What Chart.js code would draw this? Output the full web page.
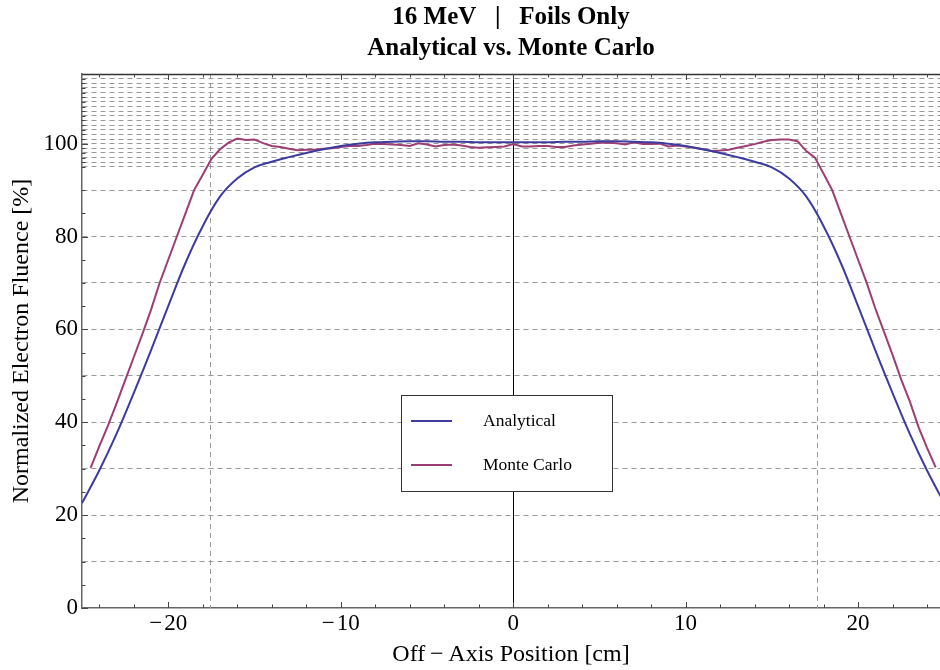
<!DOCTYPE html>
<html>
<head>
<meta charset="utf-8">
<script src="https://cdn.jsdelivr.net/npm/chart.js@4/dist/chart.umd.min.js"></script>
<style>
html, body { margin: 0; padding: 0; background: #fff; }
</style>
</head>
<body>
<canvas id="fluenceChart" width="940" height="670"></canvas>
<script>
var chartTitle = ['16 MeV   |   Foils Only', 'Analytical vs. Monte Carlo'];
var seriesNames = ['Analytical', 'Monte Carlo'];

// off-axis position [cm]
var analyticalX = [-25, -24, -23, -22, -21, -20, -19, -18, -17, -16, -15, -14, -13, -12, -11, -10, -9, -8, -7, -6, -5, -4, -3, -2, -1,
    0, 1, 2, 3, 4, 5, 6, 7, 8, 9, 10, 11, 12, 13, 14, 15, 16, 17, 18, 19, 20, 21, 22, 23, 24, 25];
var analyticalY = [22.6, 29.6, 37.5, 46.3, 55.5, 65.0, 74.3, 82.2, 88.6, 92.5, 94.9, 96.1, 97.1, 98.0, 98.8, 99.5, 100.0, 100.3, 100.4, 100.5, 100.5, 100.4, 100.4, 100.3, 100.3,
    100.3, 100.3, 100.3, 100.4, 100.4, 100.5, 100.5, 100.4, 100.3, 100.0, 99.5, 98.8, 98.0, 97.1, 96.1, 94.9, 92.5, 88.6, 82.2, 74.3, 65.0, 55.5, 46.3, 37.5, 29.6, 22.6];

var monteCarloX = [-24.5, -24, -23.5, -23, -22.5, -22, -21.5, -21, -20.5, -20, -19.5, -19, -18.5, -18, -17.5, -17, -16.5, -16, -15.5, -15,
    -14.5, -14, -13.5, -13, -12.5, -12, -11.5, -11, -10.5, -10, -9.5, -9, -8.5, -8, -7.5, -7, -6.5, -6, -5.5, -5,
    -4.5, -4, -3.5, -3, -2.5, -2, -1.5, -1, -0.5, 0, 0.5, 1, 1.5, 2, 2.5, 3, 3.5, 4, 4.5, 5,
    5.5, 6, 6.5, 7, 7.5, 8, 8.5, 9, 9.5, 10, 10.5, 11, 11.5, 12, 12.5, 13, 13.5, 14, 14.5, 15,
    15.5, 16, 16.5, 17, 17.5, 18, 18.5, 19, 19.5, 20, 20.5, 21, 21.5, 22, 22.5, 23, 23.5, 24, 24.5];
var monteCarloY = [30.2, 34.8, 39.2, 44.0, 49.0, 54.0, 59.0, 64.2, 70.0, 75.0, 80.0, 85.0, 90.0, 93.3, 96.7, 98.8, 100.2, 101.1, 100.8, 100.9,
    100.1, 99.5, 99.3, 98.9, 98.6, 98.7, 98.7, 98.9, 99.0, 99.3, 99.5, 99.5, 99.7, 100.0, 99.9, 99.8, 99.7, 99.5, 100.1, 99.8,
    99.4, 99.7, 99.8, 99.6, 99.3, 99.1, 99.2, 99.3, 99.4, 99.9, 99.4, 99.4, 99.5, 99.5, 99.3, 99.3, 99.6, 99.8, 100.0, 100.2,
    100.2, 100.1, 99.8, 100.3, 99.9, 99.9, 100.0, 99.4, 99.6, 99.4, 99.1, 98.8, 98.4, 98.5, 98.7, 99.1, 99.5, 99.9, 100.4, 100.8,
    100.9, 100.9, 100.5, 98.4, 97.0, 93.5, 90.0, 85.0, 80.0, 75.0, 70.0, 64.5, 59.5, 54.5, 49.2, 44.5, 39.0, 34.5, 30.3];

// axes: labels, tick marks, grid lines
var xLabelValues = [-20, -10, 0, 10, 20];
var xMinorTicks = [-24, -22, -18, -16, -14, -12, -8, -6, -4, -2, 2, 4, 6, 8, 12, 14, 16, 18, 22, 24];
var xDashedLines = [-17.6, 17.6];
var yLabelValues = [0, 20, 40, 60, 80, 100];
var yMinorTicks = [5, 10, 15, 25, 30, 35, 45, 50, 55, 65, 70, 75, 85, 90, 95, 96, 97, 98, 99, 101, 102, 103, 104,
    105, 106, 107, 108, 109, 110, 111, 112, 113, 114];
var yGridValues = [10, 20, 30, 40, 50, 60, 70, 80, 90, 95, 96, 97, 98, 99, 100, 101, 102, 103, 104, 105,
    106, 107, 108, 109, 110, 111, 112, 113, 114, 115];

var serif = "'Liberation Serif', 'Times New Roman', serif";
var gridGray = '#999';

function toPoints(xs, ys) {
    return xs.map(function (x, i) { return {x: x, y: ys[i]}; });
}

var framePlugin = {
    id: 'framePlugin',
    beforeDatasetsDraw: function (chart) {
        var ctx = chart.ctx, a = chart.chartArea, xs = chart.scales.x;
        ctx.save();
        ctx.lineWidth = 1;
        ctx.strokeStyle = gridGray;
        ctx.setLineDash([5, 4]);
        xDashedLines.forEach(function (v) {
            var px = Math.round(xs.getPixelForValue(v)) + 0.5;
            ctx.beginPath();
            ctx.moveTo(px, a.top);
            ctx.lineTo(px, a.bottom);
            ctx.stroke();
        });
        ctx.setLineDash([]);
        ctx.strokeStyle = '#000';
        var p0 = Math.round(xs.getPixelForValue(0)) + 0.5;
        ctx.beginPath();
        ctx.moveTo(p0, a.top);
        ctx.lineTo(p0, a.bottom);
        ctx.stroke();
        ctx.restore();
    },
    afterDraw: function (chart) {
        var ctx = chart.ctx, a = chart.chartArea, xs = chart.scales.x, ys = chart.scales.y;
        ctx.save();
        // top frame line
        ctx.strokeStyle = '#333';
        ctx.lineWidth = 1.3;
        ctx.beginPath();
        ctx.moveTo(a.left, a.top + 0.5);
        ctx.lineTo(a.right, a.top + 0.5);
        ctx.stroke();

        // inward tick marks
        ctx.lineWidth = 1;
        ctx.strokeStyle = '#444';
        function xTick(v, len) {
            var px = Math.round(xs.getPixelForValue(v)) + 0.5;
            ctx.beginPath();
            ctx.moveTo(px, a.bottom);
            ctx.lineTo(px, a.bottom - len);
            ctx.moveTo(px, a.top);
            ctx.lineTo(px, a.top + len);
            ctx.stroke();
        }
        function yTick(v, len) {
            var py = Math.round(ys.getPixelForValue(v)) + 0.5;
            ctx.beginPath();
            ctx.moveTo(a.left, py);
            ctx.lineTo(a.left + len, py);
            ctx.stroke();
        }
        xLabelValues.forEach(function (v) { xTick(v, 6); });
        xMinorTicks.forEach(function (v) { xTick(v, 3.5); });
        yLabelValues.forEach(function (v) { yTick(v, 6); });
        yMinorTicks.forEach(function (v) { yTick(v, 3.5); });

        // legend box
        var bx = a.left + 319, by = a.top + 321, bw = 211, bh = 96;
        ctx.fillStyle = '#fff';
        ctx.fillRect(bx, by, bw, bh);
        ctx.strokeStyle = '#333';
        ctx.lineWidth = 1;
        ctx.strokeRect(bx + 0.5, by + 0.5, bw, bh);
        ctx.font = '17.5px ' + serif;
        ctx.textBaseline = 'middle';
        ctx.textAlign = 'left';
        chart.data.datasets.forEach(function (ds, i) {
            var ly = by + 26 + i * 44;
            ctx.strokeStyle = ds.borderColor;
            ctx.lineWidth = 2;
            ctx.beginPath();
            ctx.moveTo(bx + 10, ly);
            ctx.lineTo(bx + 51, ly);
            ctx.stroke();
            ctx.fillStyle = '#000';
            ctx.fillText(ds.label, bx + 82, ly);
        });
        ctx.restore();
    }
};

var ctx = document.getElementById('fluenceChart');
var fluenceChart = new Chart(ctx, {
    type: 'line',
    data: {
        datasets: [{
            label: seriesNames[0],
            data: toPoints(analyticalX, analyticalY),
            borderColor: '#3c3ca0',
            borderWidth: 2,
            pointRadius: 0,
            tension: 0.4,
            fill: false
        }, {
            label: seriesNames[1],
            data: toPoints(monteCarloX, monteCarloY),
            borderColor: '#9c3d74',
            borderWidth: 2,
            pointRadius: 0,
            tension: 0,
            fill: false
        }]
    },
    options: {
        responsive: false,
        animation: false,
        layout: { padding: 0 },
        plugins: {
            legend: { display: false },
            tooltip: { enabled: false },
            title: {
                display: true,
                fullSize: false,
                text: chartTitle,
                color: '#000',
                font: { family: serif, size: 25, weight: 'bold', lineHeight: 1.25 },
                padding: { top: 2, bottom: 9.5 }
            }
        },
        scales: {
            x: {
                type: 'linear',
                min: -25,
                max: 24.75,
                afterBuildTicks: function (scale) {
                    scale.ticks = xLabelValues.map(function (v) { return {value: v}; });
                },
                afterFit: function (scale) { scale.height = 62; },
                grid: { display: false, drawTicks: false },
                border: { display: true, color: '#666', width: 1.5 },
                ticks: {
                    autoSkip: false,
                    maxRotation: 0,
                    padding: 2,
                    color: '#000',
                    font: { family: serif, size: 23 },
                    callback: function (v) { return v < 0 ? '\u2212\u200a' + Math.abs(v) : String(v); }
                },
                title: {
                    display: true,
                    text: 'Off\u2009\u2212\u2009Axis Position [cm]',
                    color: '#000',
                    font: { family: serif, size: 24 },
                    padding: { top: 0, bottom: 1 }
                }
            },
            y: {
                min: 0,
                max: 115,
                afterBuildTicks: function (scale) {
                    scale.ticks = [0].concat(yMinorTicks, yLabelValues.slice(1), [115]).sort(function (p, q) { return p - q; })
                        .map(function (v) { return {value: v}; });
                },
                afterFit: function (scale) { scale.width = 82; },
                grid: {
                    drawTicks: false,
                    lineWidth: 1,
                    color: function (c) {
                        return c.tick && yGridValues.indexOf(c.tick.value) >= 0 ? gridGray : 'rgba(0,0,0,0)';
                    }
                },
                border: { display: true, color: '#666', width: 1.5, dash: [5, 4] },
                ticks: {
                    autoSkip: false,
                    padding: 4,
                    color: '#000',
                    font: { family: serif, size: 23 },
                    callback: function (v) { return yLabelValues.indexOf(v) >= 0 ? String(v) : ''; }
                },
                title: {
                    display: true,
                    text: 'Normalized Electron Fluence [%]',
                    color: '#000',
                    font: { family: serif, size: 24 },
                    padding: { top: 7, bottom: 0 }
                }
            }
        }
    },
    plugins: [framePlugin]
});
</script>
</body>
</html>
